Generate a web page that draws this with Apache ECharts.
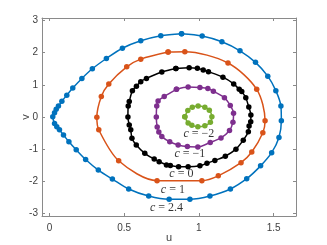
<!DOCTYPE html>
<html>
<head>
<meta charset="utf-8">
<script src="https://cdn.jsdelivr.net/npm/echarts@6/dist/echarts.min.js"></script>
<style>
html,body{margin:0;padding:0;background:#fff;}
#c{width:327px;height:245px;}
</style>
</head>
<body>
<div id="c"></div>
<script>
const tickU = [0, 0.5, 1, 1.5];
const tickV = [-3, -2, -1, 0, 1, 2, 3];
const levelNames = ['2.4', '1', '0', '−1', '−2'];
const levelColors = ['#0072BD', '#D95319', '#000000', '#7E2F8E', '#77AC30'];

const orbit24 = [
  [0.884,2.59],[1.022,2.52],[1.154,2.34],[1.275,2.06],[1.379,1.70],[1.461,1.27],[1.515,0.82],
  [1.549,0.34],[1.552,-0.12],[1.536,-0.64],[1.487,-1.11],[1.413,-1.52],[1.320,-1.92],[1.211,-2.24],
  [1.074,-2.46],[0.940,-2.56],[0.801,-2.56],[0.664,-2.46],[0.530,-2.24],[0.421,-1.93],[0.327,-1.65],
  [0.242,-1.32],[0.179,-1.02],[0.130,-0.77],[0.094,-0.56],[0.067,-0.40],[0.049,-0.30],[0.034,-0.20],
  [0.022,0.01],[0.034,0.13],[0.045,0.24],[0.060,0.34],[0.083,0.49],[0.116,0.68],[0.156,0.90],
  [0.217,1.20],[0.287,1.50],[0.381,1.82],[0.488,2.14],[0.611,2.37],[0.745,2.53]
];
const orbit1 = [
  [0.794,2.02],[0.906,2.03],[1.195,1.68],[1.387,0.86],[1.443,-0.12],[1.428,-0.49],[1.354,-1.09],
  [1.282,-1.42],[1.130,-1.83],[1.020,-1.98],[0.720,-1.98],[0.463,-1.36],[0.330,-0.40],[0.317,-0.01],
  [0.347,0.64],[0.397,1.03],[0.517,1.56],[0.611,1.80]
];
const orbit0 = [
  [0.846,1.51],[0.935,1.53],[0.990,1.52],[1.029,1.46],[1.064,1.41],[1.161,1.24],[1.233,1.03],
  [1.270,0.86],[1.287,0.79],[1.314,0.60],[1.334,0.31],[1.348,0.06],[1.347,-0.15],[1.336,-0.28],
  [1.331,-0.46],[1.297,-0.72],[1.248,-1.00],[1.177,-1.22],[1.107,-1.35],[1.054,-1.44],[1.007,-1.52],
  [0.928,-1.55],[0.864,-1.55],[0.809,-1.51],[0.783,-1.49],[0.734,-1.39],[0.701,-1.31],[0.638,-1.13],
  [0.581,-0.87],[0.552,-0.66],[0.544,-0.40],[0.534,-0.25],[0.525,0.00],[0.527,0.34],[0.534,0.48],
  [0.555,0.82],[0.582,0.96],[0.611,1.10],[0.649,1.20],[0.752,1.40]
];
const orbitM1 = [
  [0.850,0.86],[0.928,0.93],[1.007,0.92],[1.060,0.89],[1.097,0.80],[1.171,0.60],[1.210,0.36],
  [1.232,0.12],[1.228,-0.16],[1.205,-0.42],[1.148,-0.65],[1.076,-0.79],[0.993,-0.93],[0.923,-0.92],
  [0.861,-0.87],[0.805,-0.77],[0.752,-0.61],[0.732,-0.47],[0.721,-0.31],[0.715,0.00],[0.718,0.34],
  [0.727,0.50],[0.768,0.64]
];
const orbitM2 = [
  [0.906,0.01],[0.926,0.20],[0.956,0.30],[0.995,0.34],[1.040,0.30],[1.070,0.21],[1.087,0.01],
  [1.077,-0.16],[1.040,-0.27],[0.993,-0.30],[0.953,-0.26],[0.928,-0.19]
];
const orbits = [orbit24, orbit1, orbit0, orbitM1, orbitM2];
const labelPos = [[0.783,-2.84],[0.826,-2.27],[0.883,-1.77],[0.94,-1.16],[1.0,-0.51]];

const boxColor = '#8a8a8a';
const textColor = '#404040';

const series = orbits.map((pts, i) => ({
  type: 'line',
  data: pts.concat([pts[0]]),
  smooth: 0.3,
  symbol: 'circle',
  symbolSize: 5.5,
  showSymbol: true,
  lineStyle: { color: levelColors[i], width: 1.5 },
  itemStyle: { color: levelColors[i] },
  xAxisIndex: 0, yAxisIndex: 0,
  silent: true
}));

series.push({
  type: 'scatter',
  symbolSize: 0,
  xAxisIndex: 0, yAxisIndex: 0,
  data: labelPos.map((p, i) => ({ value: p, name: levelNames[i] })),
  label: {
    show: true,
    position: 'inside',
    formatter: p => '{i|c} = ' + p.name,
    fontFamily: 'Liberation Serif',
    fontSize: 12,
    color: '#000',
    rich: { i: { fontStyle: 'italic', fontFamily: 'Liberation Serif', fontSize: 12, color: '#000' } }
  },
  silent: true
});

const baseAxisX = {
  type: 'value', min: -0.05, max: 1.65,
  splitLine: { show: false },
  axisLine: { show: true, onZero: false, lineStyle: { color: boxColor, width: 1 } },
  axisTick: { show: true, inside: true, length: 3, customValues: tickU, lineStyle: { color: boxColor } }
};
const baseAxisY = {
  type: 'value', min: -3.08, max: 3.08,
  splitLine: { show: false },
  axisLine: { show: true, onZero: false, lineStyle: { color: boxColor, width: 1 } },
  axisTick: { show: true, inside: true, length: 3, customValues: tickV, lineStyle: { color: boxColor } }
};

const option = {
  animation: false,
  backgroundColor: '#fff',
  grid: { left: 42, right: 31, top: 18, bottom: 29, containLabel: false, outerBoundsMode: 'none' },
  xAxis: [
    Object.assign({}, baseAxisX, {
      position: 'bottom',
      name: 'u', nameLocation: 'middle', nameGap: 16, nameMoveOverlap: false,
      nameTextStyle: { fontFamily: 'Liberation Sans', fontSize: 11, color: textColor },
      axisLabel: { show: true, customValues: tickU, margin: 7, fontFamily: 'Liberation Sans', fontSize: 10, color: textColor }
    }),
    Object.assign({}, baseAxisX, { position: 'top', axisLabel: { show: false } })
  ],
  yAxis: [
    Object.assign({}, baseAxisY, {
      position: 'left',
      name: 'v', nameLocation: 'middle', nameGap: 11, nameMoveOverlap: false,
      nameTextStyle: { fontFamily: 'Liberation Sans', fontSize: 11, color: textColor },
      axisLabel: { show: true, customValues: tickV, margin: 4, fontFamily: 'Liberation Sans', fontSize: 10, color: textColor }
    }),
    Object.assign({}, baseAxisY, { position: 'right', axisLabel: { show: false } })
  ],
  series: series
};

const chart = echarts.init(document.getElementById('c'), null, { renderer: 'canvas' });
chart.setOption(option);
</script>
</body>
</html>
